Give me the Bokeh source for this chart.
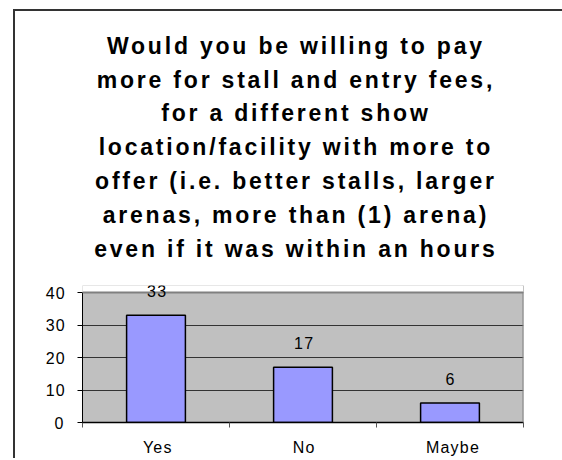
from bokeh.plotting import figure
from bokeh.layouts import column
from bokeh.models import (Range1d, FixedTicker, LabelSet, ColumnDataSource,
                          BoxAnnotation, Span)
from bokeh.core.properties import value
from bokeh.embed import file_html
from bokeh.resources import INLINE

categories = ["Yes", "No", "Maybe"]
values = [33, 17, 6]
y_ticks = [0, 10, 20, 30, 40]
y_max = 40
title_lines = [
    "Would you be willing to pay",
    "more for stall and entry fees,",
    "for a different show",
    "location/facility with more to",
    "offer (i.e. better stalls, larger",
    "arenas, more than (1) arena)",
    "even if it was within an hours",
]

FONT = "Liberation Sans"
W = 547
BL, BR = 67, 39          # left / right borders shared by both panels
FW = W - BL - BR         # frame width (441)

# ---------------- title panel ----------------
TH = 264
TLS = 2.8                # letter spacing of the title
t = figure(width=W, height=TH, output_backend="svg", toolbar_location=None,
           title_location=None,
           x_range=Range1d(0, FW), y_range=Range1d(0, TH),
           min_border_left=BL, min_border_right=BR,
           min_border_top=0, min_border_bottom=0)
t.axis.visible = False
t.grid.visible = False
t.outline_line_color = None
t.background_fill_color = "white"
t.border_fill_color = "white"
t.styles = {"letter-spacing": f"{TLS}px"}
line_step = 33.8
first_base = 275 - 52.3 + 7
tsrc = ColumnDataSource(dict(
    x=[212] * len(title_lines),
    y=[first_base - line_step * i for i in range(len(title_lines))],
    dx=[-(len(s) - 1) * TLS / 2 for s in title_lines],
    txt=title_lines))
t.text(x="x", y="y", text="txt", x_offset="dx", source=tsrc, text_align="center",
       text_baseline="alphabetic", text_font=value(FONT),
       text_font_size="23px", text_font_style="bold", text_color="black")

# ---------------- chart ----------------
frame_h = 137
y_top = y_max * frame_h / 130.0
xs = [i + 0.5 for i in range(len(categories))]
bounds = [float(i) for i in range(len(categories) + 1)]

p = figure(width=W, height=10 + frame_h + 36, output_backend="svg",
           toolbar_location=None, title_location=None,
           x_range=Range1d(0, len(categories)), y_range=Range1d(0, y_top),
           min_border_left=BL, min_border_right=BR, min_border_top=10,
           min_border_bottom=36)
p.background_fill_color = "#C0C0C0"
p.border_fill_color = "white"
p.outline_line_color = None
p.styles = {"letter-spacing": "1.2px"}

src = ColumnDataSource(dict(x=xs, top=values, lab=[str(v) for v in values]))
p.vbar(x="x", top="top", width=0.4, source=src, fill_color="#9999FF",
       line_color="black", line_width=1.5)

p.xgrid.visible = False
p.ygrid.ticker = FixedTicker(ticks=y_ticks)
p.ygrid.grid_line_color = "#333333"
p.ygrid.grid_line_width = 1

# right edge of plot area (gray), then white band above 40, then top edge
p.add_layout(Span(location=len(categories), dimension="height",
                  line_color="#808080", line_width=2))
p.add_layout(BoxAnnotation(bottom=y_max, fill_color="white", fill_alpha=1,
                           line_color=None))
p.add_layout(Span(location=y_max, dimension="width",
                  line_color="#808080", line_width=2))

xa = p.xaxis[0]
xa.ticker = FixedTicker(ticks=xs, minor_ticks=bounds)
xa.major_label_overrides = {x: c for x, c in zip(xs, categories)}
xa.major_tick_out = 0
xa.major_tick_in = 0
xa.minor_tick_out = 5
xa.minor_tick_in = 0
xa.minor_tick_line_color = "#555555"
xa.axis_line_color = "black"
xa.axis_line_width = 1.5
xa.major_label_standoff = 11
xa.major_label_text_font = FONT
xa.major_label_text_font_size = "16px"
xa.major_label_text_color = "black"

ya = p.yaxis[0]
ya.ticker = FixedTicker(ticks=y_ticks)
ya.bounds = (0, y_max)
ya.major_tick_out = 5
ya.major_tick_in = 0
ya.minor_tick_out = 0
ya.minor_tick_in = 0
ya.axis_line_color = "black"
ya.major_tick_line_color = "black"
ya.major_label_standoff = 14
ya.major_label_text_font = FONT
ya.major_label_text_font_size = "16px"
ya.major_label_text_color = "black"

labels = LabelSet(x="x", y="top", text="lab", source=src, y_offset=18,
                  text_align="center", text_baseline="alphabetic",
                  text_font=value(FONT), text_font_size=value("16px"),
                  text_color=value("black"))
p.add_layout(labels)

layout = column(t, p, spacing=0)
layout.styles = {"border-top": "2px solid #333333",
                 "border-left": "2px solid #333333",
                 "margin-left": "13px", "margin-top": "9px"}

open("out.html", "w").write(file_html(layout, INLINE))
